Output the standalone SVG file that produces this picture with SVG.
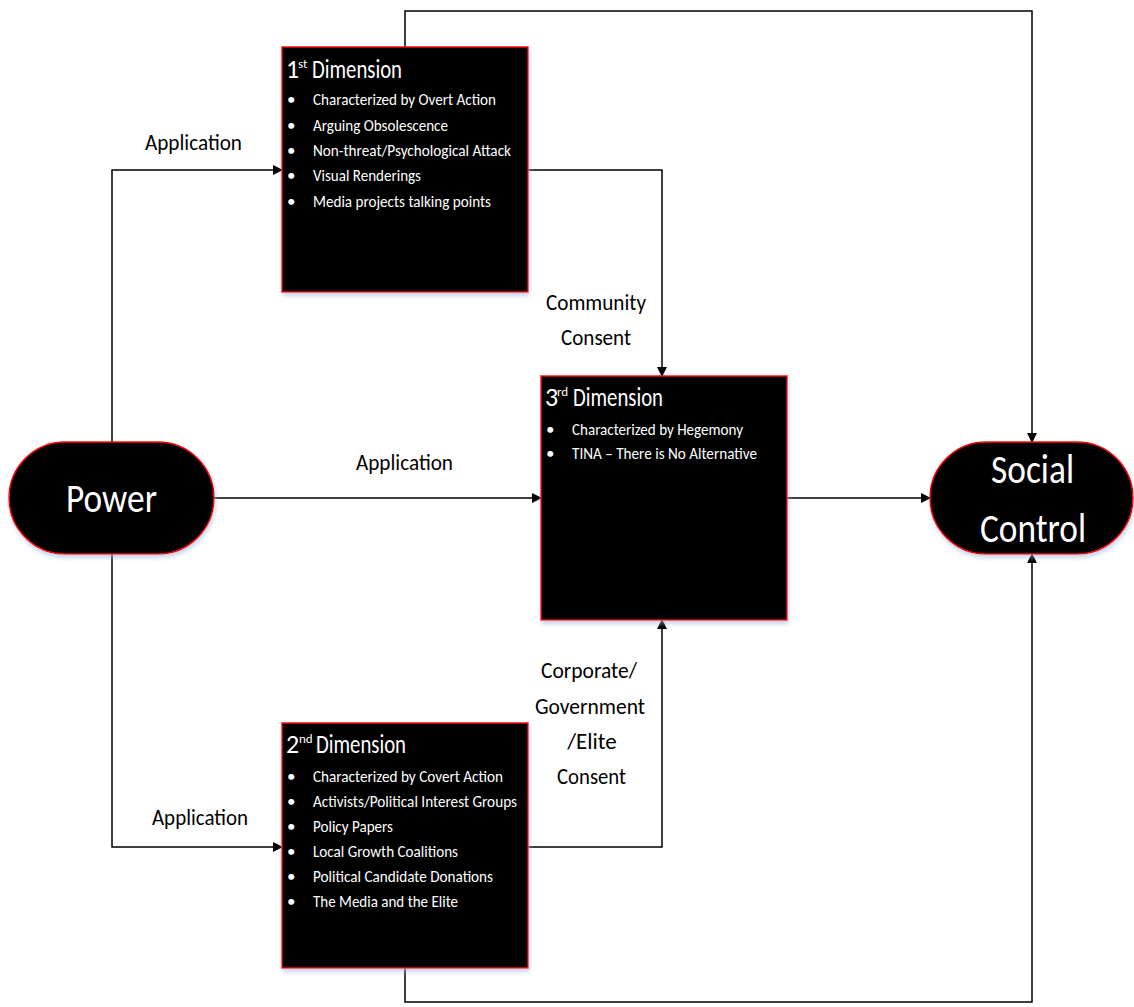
<svg xmlns="http://www.w3.org/2000/svg" width="1134" height="1007" viewBox="0 0 1134 1007">
<defs>
<marker id="arr" markerWidth="10" markerHeight="10" refX="9" refY="5" orient="auto" markerUnits="userSpaceOnUse">
<path d="M0,0 L10,5 L0,10 Z" fill="#000"/>
</marker>
<filter id="sh" x="-10%" y="-10%" width="120%" height="120%">
<feDropShadow dx="1" dy="3" stdDeviation="2" flood-color="#9bb7e0" flood-opacity="0.6"/>
</filter>
</defs>
<style>
.box{fill:#000;stroke:#ff0000;stroke-width:1.5;filter:url(#sh)}
.t{font-family:Carlito,"Liberation Sans Narrow","Liberation Sans",sans-serif;fill:#fff}
.title{font-size:26px}
.sup{font-size:13px}
.b{font-size:17px}
.big{font-size:42px}
.lbl{font-family:Carlito,"Liberation Sans Narrow","Liberation Sans",sans-serif;fill:#000;font-size:23px}
.c{fill:none;stroke:#000;stroke-width:1.5}
</style>
<g id="connectors">
<path class="c" d="M112,442 V170 H282" marker-end="url(#arr)"/>
<path class="c" d="M214,498 H541" marker-end="url(#arr)"/>
<path class="c" d="M112,554 V847 H282" marker-end="url(#arr)"/>
<path class="c" d="M528,170 H662 V376" marker-end="url(#arr)"/>
<path class="c" d="M528,847 H662 V620" marker-end="url(#arr)"/>
<path class="c" d="M787,498 H930" marker-end="url(#arr)"/>
<path class="c" d="M405,47 V11 H1032 V442" marker-end="url(#arr)"/>
<path class="c" d="M405,968 V1002 H1032 V554" marker-end="url(#arr)"/>
<text class="lbl" x="145" y="150" textLength="97" lengthAdjust="spacingAndGlyphs">Application</text>
<text class="lbl" x="356" y="470" textLength="97" lengthAdjust="spacingAndGlyphs">Application</text>
<text class="lbl" x="152" y="825" textLength="96" lengthAdjust="spacingAndGlyphs">Application</text>
<text class="lbl" x="546" y="310" textLength="100" lengthAdjust="spacingAndGlyphs">Community</text>
<text class="lbl" x="561" y="345" textLength="70" lengthAdjust="spacingAndGlyphs">Consent</text>
<text class="lbl" x="541" y="678" textLength="96" lengthAdjust="spacingAndGlyphs">Corporate/</text>
<text class="lbl" x="535" y="714" textLength="110" lengthAdjust="spacingAndGlyphs">Government</text>
<text class="lbl" x="592" y="749" text-anchor="middle">/Elite</text>
<text class="lbl" x="557" y="784" textLength="69" lengthAdjust="spacingAndGlyphs">Consent</text>
</g>
<g id="power">
<rect class="box" x="9" y="442" width="205" height="112" rx="56" ry="56"/>
<text class="t big" x="66" y="512" textLength="91" lengthAdjust="spacingAndGlyphs">Power</text>
</g>
<g id="social-control">
<rect class="box" x="930" y="442" width="203" height="112" rx="56" ry="56"/>
<text class="t big" x="991" y="483" textLength="83" lengthAdjust="spacingAndGlyphs">Social</text>
<text class="t big" x="980" y="542" textLength="106" lengthAdjust="spacingAndGlyphs">Control</text>
</g>
<g id="dim1">
<rect class="box" x="282" y="47" width="246" height="245"/>
<text class="t title" x="286" y="78">1</text>
<text class="t sup" x="298" y="68">st</text>
<text class="t title" x="312" y="78" textLength="90" lengthAdjust="spacingAndGlyphs">Dimension</text>
<g class="t b">
<text x="287" y="105">•</text><text x="313" y="105" textLength="183" lengthAdjust="spacingAndGlyphs">Characterized by Overt Action</text>
<text x="287" y="131">•</text><text x="313" y="131" textLength="135" lengthAdjust="spacingAndGlyphs">Arguing Obsolescence</text>
<text x="287" y="156">•</text><text x="313" y="156" textLength="198" lengthAdjust="spacingAndGlyphs">Non-threat/Psychological Attack</text>
<text x="287" y="181">•</text><text x="313" y="181" textLength="108" lengthAdjust="spacingAndGlyphs">Visual Renderings</text>
<text x="287" y="207">•</text><text x="313" y="207" textLength="178" lengthAdjust="spacingAndGlyphs">Media projects talking points</text>
</g>
</g>
<g id="dim3">
<rect class="box" x="541" y="376" width="246" height="244"/>
<text class="t title" x="545" y="406">3</text>
<text class="t sup" x="557" y="396">rd</text>
<text class="t title" x="573" y="406" textLength="90" lengthAdjust="spacingAndGlyphs">Dimension</text>
<g class="t b">
<text x="546" y="435">•</text><text x="572" y="435" textLength="171" lengthAdjust="spacingAndGlyphs">Characterized by Hegemony</text>
<text x="546" y="459">•</text><text x="572" y="459" textLength="185" lengthAdjust="spacingAndGlyphs">TINA – There is No Alternative</text>
</g>
</g>
<g id="dim2">
<rect class="box" x="282" y="723" width="246" height="245"/>
<text class="t title" x="286" y="753">2</text>
<text class="t sup" x="299" y="743">nd</text>
<text class="t title" x="316" y="753" textLength="90" lengthAdjust="spacingAndGlyphs">Dimension</text>
<g class="t b">
<text x="287" y="782">•</text><text x="313" y="782" textLength="190" lengthAdjust="spacingAndGlyphs">Characterized by Covert Action</text>
<text x="287" y="807">•</text><text x="313" y="807" textLength="204" lengthAdjust="spacingAndGlyphs">Activists/Political Interest Groups</text>
<text x="287" y="832">•</text><text x="313" y="832" textLength="80" lengthAdjust="spacingAndGlyphs">Policy Papers</text>
<text x="287" y="857">•</text><text x="313" y="857" textLength="145" lengthAdjust="spacingAndGlyphs">Local Growth Coalitions</text>
<text x="287" y="882">•</text><text x="313" y="882" textLength="180" lengthAdjust="spacingAndGlyphs">Political Candidate Donations</text>
<text x="287" y="907">•</text><text x="313" y="907" textLength="145" lengthAdjust="spacingAndGlyphs">The Media and the Elite</text>
</g>
</g>
</svg>
